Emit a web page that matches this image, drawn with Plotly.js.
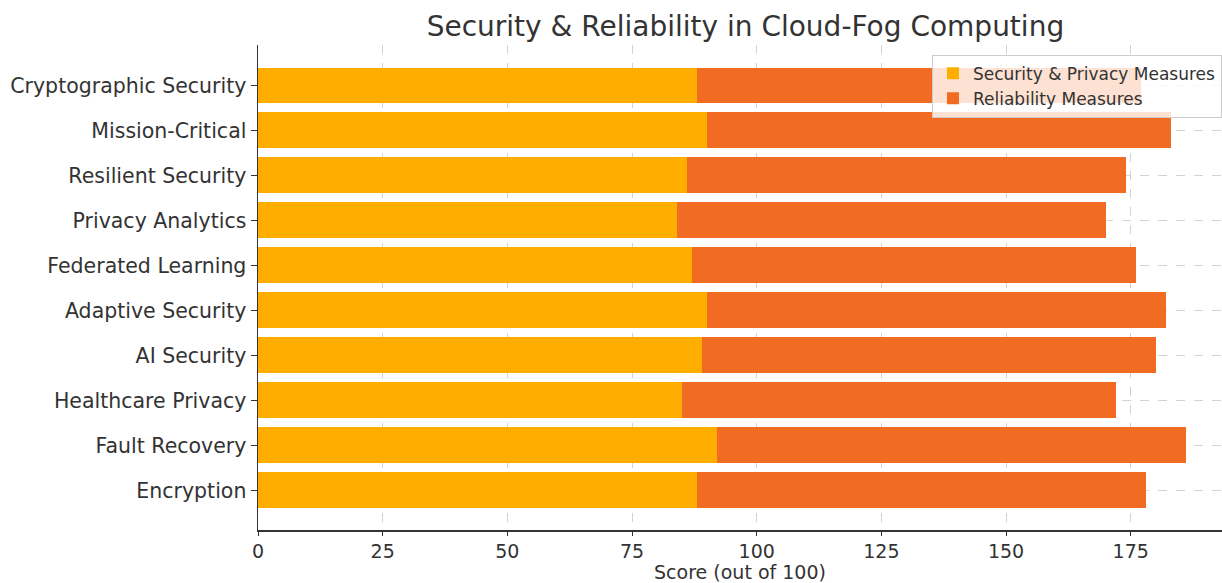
<!DOCTYPE html>
<html><head><meta charset="utf-8">
<script src="https://cdn.plot.ly/plotly-3.0.1.min.js"></script>
<style>html,body{margin:0;padding:0;background:#fff}</style>
</head><body>
<div id="chart" style="width:1222px;height:583px"></div>
<script>
const categories = ["Encryption","Fault Recovery","Healthcare Privacy","AI Security","Adaptive Security","Federated Learning","Privacy Analytics","Resilient Security","Mission-Critical","Cryptographic Security"];
const securityPrivacy = [88, 92, 85, 89, 90, 87, 84, 86, 90, 88];
const reliability = [90, 94, 87, 91, 92, 89, 86, 88, 93, 89];
const seriesNames = ["Security & Privacy Measures", "Reliability Measures"];
const xTicks = [0, 25, 50, 75, 100, 125, 150, 175];

const font = "DejaVu Sans, sans-serif";
const traces = [
  {type:"bar", orientation:"h", y:categories, x:securityPrivacy, name:seriesNames[0],
   marker:{color:"#FFAE00"}, width:0.8},
  {type:"bar", orientation:"h", y:categories, x:reliability, name:seriesNames[1],
   marker:{color:"#F26B22"}, width:0.8}
];
const layout = {
  width:1222, height:583, barmode:"stack",
  margin:{l:258, r:0, t:45, b:53},
  paper_bgcolor:"#fff", plot_bgcolor:"#fff",
  font:{family:font, color:"#333", size:20},
  title:{text:"Security & Reliability in Cloud-Fog Computing", x:0.61, xanchor:"center", y:0.955, yanchor:"middle", font:{size:28, color:"#333", family:font}},
  xaxis:{range:[0,193.3], tickvals:xTicks, ticks:"outside", ticklen:4, tickcolor:"#333",
    showline:true, linecolor:"#333", linewidth:1.5, zeroline:false,
    showgrid:true, gridcolor:"#d3d3d3", griddash:"dash", gridwidth:1,
    tickfont:{size:19, color:"#333"},
    title:{text:"Score (out of 100)", font:{size:19, color:"#333"}, standoff:0}},
  yaxis:{type:"category", categoryorder:"array", categoryarray:categories, range:[-0.88, 9.9],
    ticks:"outside", ticklen:6, tickcolor:"#333", showline:true, linecolor:"#333", linewidth:1.5,
    showgrid:true, gridcolor:"#d3d3d3", griddash:"dash", gridwidth:1,
    tickfont:{size:20.5, color:"#333"}},
  legend:{x:1.0, xanchor:"right", y:0.98, yanchor:"top", bgcolor:"rgba(255,255,255,0.8)",
    bordercolor:"#cccccc", borderwidth:1, font:{size:17, color:"#333"}, traceorder:"normal",
    tracegroupgap:0, itemwidth:30},
  showlegend:true
};
Plotly.newPlot("chart", traces, layout, {displayModeBar:false, staticPlot:true});
</script>
</body></html>
